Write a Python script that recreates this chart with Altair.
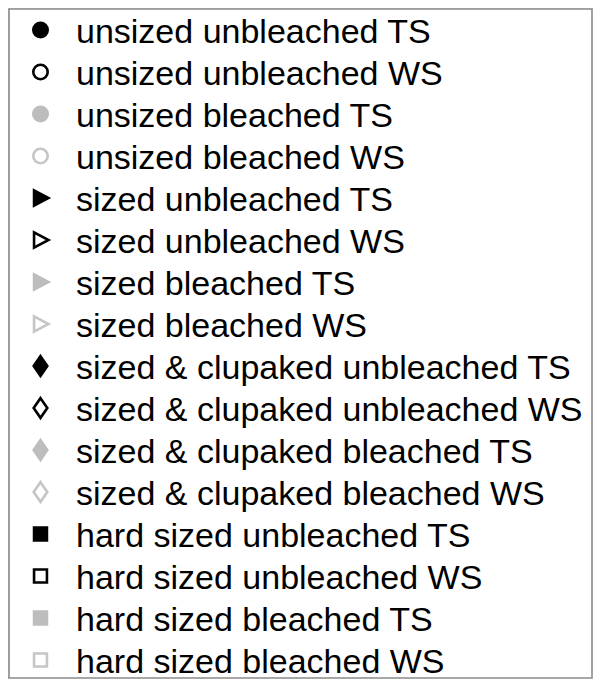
import altair as alt
import pandas as pd

treatments = ["unsized", "sized", "sized & clupaked", "hard sized"]
bleaching = ["unbleached", "bleached"]
tests = ["TS", "WS"]
symbols = ["circle", "triangle", "diamond", "square"]

rows = []
idx = 0
for t, sym in zip(treatments, symbols):
    for b in bleaching:
        for s in tests:
            rows.append({
                "idx": idx,
                "label": f"{t} {b} {s}",
                "symbol": sym,
                "style": f"{b} {s}",
            })
            idx += 1
df = pd.DataFrame(rows)

shape_paths = [
    "M0.95,0A0.95,0.95,0,1,1,-0.95,0A0.95,0.95,0,1,1,0.95,0Z",
    "M-0.85,-1L1.05,0L-0.85,1Z",
    "M0,-1.3L0.9,0L0,1.3L-0.9,0Z",
    "M-0.85,-0.85L0.85,-0.85L0.85,0.85L-0.85,0.85Z",
]
style_domain = ["unbleached TS", "unbleached WS", "bleached TS", "bleached WS"]
fill_range = ["#000000", "#ffffff", "#bdbdbd", "#ffffff"]
stroke_range = ["#000000", "#000000", "#bdbdbd", "#c6c6c6"]

yenc = alt.Y("idx:Q", axis=None, scale=alt.Scale(domain=[0, 15], range=[22, 652]))

border = alt.Chart(pd.DataFrame({"b": [0]})).mark_rect(
    fillOpacity=0, stroke="#8a8a8a", strokeWidth=1.6
).encode(
    x=alt.value(1), x2=alt.value(584), y=alt.value(1), y2=alt.value(670)
)

points = alt.Chart(df).mark_point(filled=False, size=230, strokeWidth=2.6, opacity=1).encode(
    x=alt.value(32.5),
    y=yenc,
    shape=alt.Shape("symbol:N", scale=alt.Scale(domain=symbols, range=shape_paths), legend=None),
    fill=alt.Fill("style:N", scale=alt.Scale(domain=style_domain, range=fill_range), legend=None),
    stroke=alt.Stroke("style:N", scale=alt.Scale(domain=style_domain, range=stroke_range), legend=None),
)

texts = alt.Chart(df).mark_text(
    align="left", baseline="alphabetic", dy=13, fontSize=34,
    font="Liberation Sans", color="#000000",
).encode(
    x=alt.value(68),
    y=yenc,
    text="label:N",
)

chart = alt.layer(border, points, texts).properties(
    width=585, height=671, autosize=alt.AutoSizeParams(type="none"), padding=0,
).configure_view(stroke=None).configure(background="white")

chart.save("out.html", embed_options={"renderer": "svg", "actions": False})
